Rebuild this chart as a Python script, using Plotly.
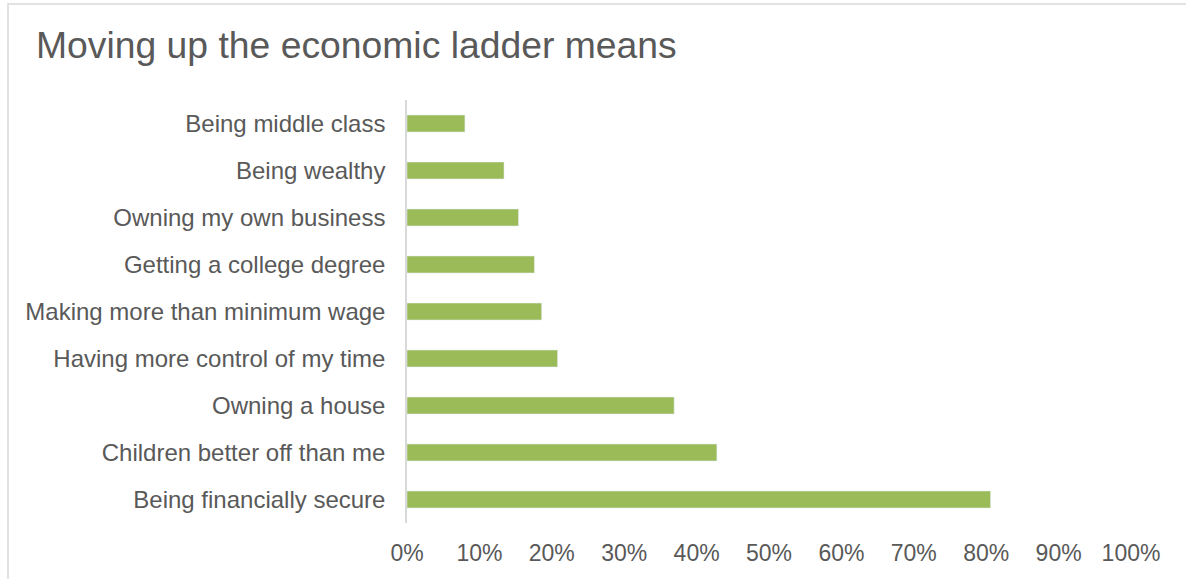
import plotly.graph_objects as go

categories = [
    "Being middle class",
    "Being wealthy",
    "Owning my own business",
    "Getting a college degree",
    "Making more than minimum wage",
    "Having more control of my time",
    "Owning a house",
    "Children better off than me",
    "Being financially secure",
]
values = [0.080, 0.134, 0.154, 0.176, 0.186, 0.208, 0.369, 0.428, 0.806]
x_ticks = [0, 0.1, 0.2, 0.3, 0.4, 0.5, 0.6, 0.7, 0.8, 0.9, 1.0]
x_tick_labels = ["0%", "10%", "20%", "30%", "40%", "50%", "60%", "70%", "80%", "90%", "100%"]

W, H = 1186, 579
ml, mr, mt, mb = 407, 55, 100, 56
pw = W - ml - mr
ph = H - mt - mb

fig = go.Figure(go.Bar(
    x=values,
    y=categories,
    orientation="h",
    marker=dict(color="#9BBB59"),
    hoverinfo="x+y",
))

fig.update_layout(
    width=W, height=H,
    margin=dict(l=ml, r=mr, t=mt, b=mb, autoexpand=False),
    paper_bgcolor="white",
    plot_bgcolor="white",
    bargap=0.64,
    showlegend=False,
    font=dict(family="Liberation Sans, Arial, sans-serif", color="#595959"),
    title=dict(
        text="Moving up the economic ladder means",
        font=dict(size=37.3, color="#595959"),
        x=36 / W, xanchor="left",
        y=1 - 45 / H, yanchor="middle",
    ),
    xaxis=dict(
        range=[0, 1.0],
        tickvals=x_ticks,
        ticktext=x_tick_labels,
        showgrid=False,
        zeroline=False,
        showline=False,
        ticks="",
        tickfont=dict(size=23, color="#595959"),
        ticklabelstandoff=14,
        fixedrange=True,
    ),
    yaxis=dict(
        autorange="reversed",
        showgrid=False,
        zeroline=False,
        showline=True,
        linecolor="#d9d9d9",
        linewidth=1.5,
        ticks="",
        tickfont=dict(size=24, color="#595959"),
        ticklabelstandoff=15,
        fixedrange=True,
    ),
    shapes=[
        dict(
            type="rect", xref="paper", yref="paper",
            x0=(8 - ml) / pw, x1=(W + 20 - ml) / pw,
            y0=-(mb + 20) / ph, y1=(H - 4 - mb) / ph,
            line=dict(color="#d9d9d9", width=1.5),
            fillcolor="rgba(0,0,0,0)",
            layer="below",
        )
    ],
)

fig.write_html("out.html")
